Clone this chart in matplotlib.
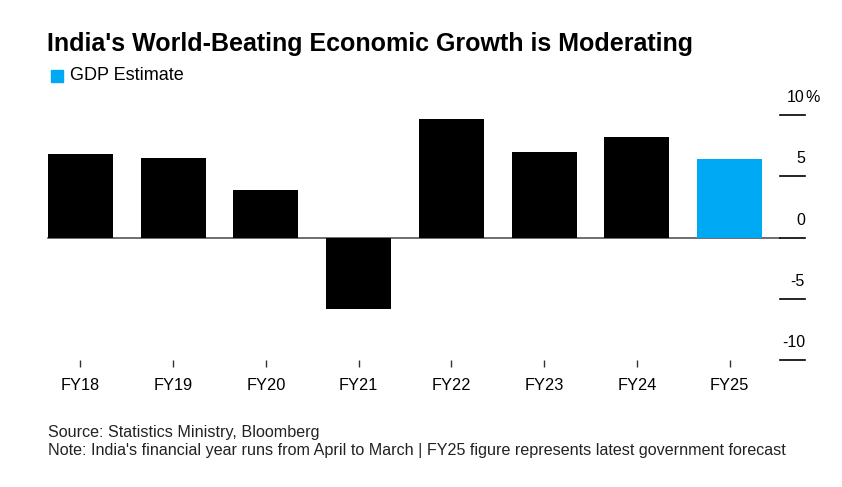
import matplotlib.pyplot as plt
from matplotlib.patches import Rectangle

plt.rcParams['font.family'] = ['Liberation Sans', 'DejaVu Sans']

# GDP growth, % (FY25 is the government estimate)
years = ['FY18', 'FY19', 'FY20', 'FY21', 'FY22', 'FY23', 'FY24', 'FY25']
growth = [6.8, 6.5, 3.9, -5.8, 9.7, 7.0, 8.2, 6.4]
colors = ['black'] * 7 + ['#00a9f4']
ytick_vals = [10, 5, 0, -5, -10]

W, H = 842, 487
fig = plt.figure(figsize=(W / 100, H / 100), dpi=100)
ax = fig.add_axes([34 / W, 1 - 360 / H, 742 / W, 245 / H])

x = list(range(len(years)))
ax.bar(x, growth, width=0.7, color=colors, zorder=2)
ax.set_xlim(-0.5, len(years) - 0.5)
ax.set_ylim(-10, 10)

# zero line
ax.plot([0.0193, 1.0054], [0, 0], transform=ax.get_yaxis_transform(),
        color='#555555', lw=1.2, clip_on=False, zorder=1)

# right-side tick lines and labels
for v in ytick_vals:
    ax.plot([1.0054, 1.039], [v, v], transform=ax.get_yaxis_transform(),
            color='black', lw=1.2, clip_on=False)
    ax.text(1.039, v + 0.8, str(v), transform=ax.get_yaxis_transform(),
            ha='right', va='bottom', fontsize=11.5)
ax.text(1.039, 10 + 0.8, '%', transform=ax.get_yaxis_transform(),
        ha='left', va='bottom', fontsize=11.5)

ax.set_xticks(x)
ax.set_xticklabels(years, fontsize=11.8)
ax.tick_params(axis='x', length=5, width=1, color='#333333', pad=8)
ax.set_yticks([])
for s in ax.spines.values():
    s.set_visible(False)

# title and legend
fig.text(47 / W, 1 - 44 / H, "India's World-Beating Economic Growth is Moderating",
         fontsize=18, fontweight='bold', va='center')
fig.patches.append(Rectangle((51 / W, 1 - 82 / H), 12 / W, 12 / H,
                             transform=fig.transFigure, color='#00a9f4'))
fig.text(70 / W, 1 - 76 / H, 'GDP Estimate', fontsize=13, va='center')

# footer
fig.text(48 / W, 1 - 433 / H, 'Source: Statistics Ministry, Bloomberg',
         fontsize=11.6, va='center', color='#222222')
fig.text(48 / W, 1 - 451 / H,
         "Note: India's financial year runs from April to March | "
         "FY25 figure represents latest government forecast",
         fontsize=11.6, va='center', color='#222222')

fig.savefig('out.png', dpi=100)
